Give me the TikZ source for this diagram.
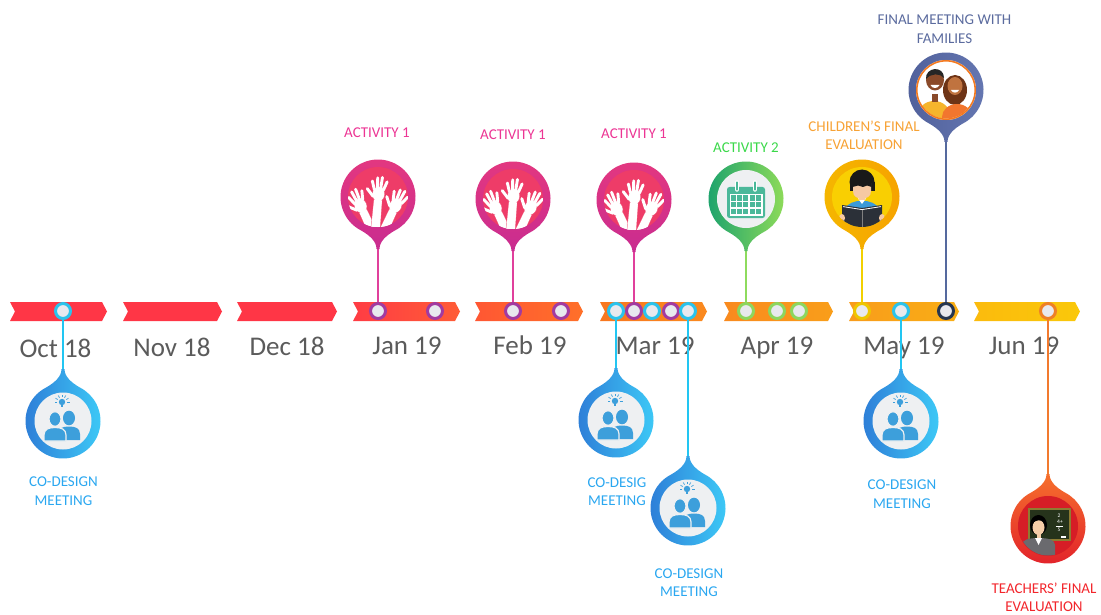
\documentclass[tikz,border=0pt]{standalone}
\usepackage{fontspec}
\setmainfont{Carlito}

% timeline bars
\definecolor{barRed}{HTML}{FF3646}
\definecolor{janL}{HTML}{FF3C44}\definecolor{janR}{HTML}{FF5C36}
\definecolor{febL}{HTML}{FF5733}\definecolor{febR}{HTML}{FF7029}
\definecolor{marL}{HTML}{F8771F}\definecolor{marR}{HTML}{FA8A1F}
\definecolor{aprL}{HTML}{F98A1E}\definecolor{aprR}{HTML}{F99E1A}
\definecolor{mayL}{HTML}{F99C1B}\definecolor{mayR}{HTML}{F9AE15}
\definecolor{junL}{HTML}{FBBB0D}\definecolor{junR}{HTML}{FAC80A}
% dots and stems
\definecolor{dotFill}{HTML}{E8E9EE}
\definecolor{ringPurple}{HTML}{A23AA0}
\definecolor{ringCyan}{HTML}{2BC3EC}
\definecolor{ringGreen}{HTML}{8DD65E}
\definecolor{ringYellow}{HTML}{EEC600}
\definecolor{ringNavy}{HTML}{263650}
\definecolor{ringOrange}{HTML}{EE8026}
\definecolor{stemPink}{HTML}{E0409C}
\definecolor{stemCyan}{HTML}{22C6F2}
\definecolor{stemGreen}{HTML}{8EDB5E}
\definecolor{stemYellow}{HTML}{F2D000}
\definecolor{stemSlate}{HTML}{55699E}
\definecolor{stemOrange}{HTML}{F27A2E}
% pins
\definecolor{pinkOuterT}{HTML}{E4387F}\definecolor{pinkOuterB}{HTML}{C92C90}
\definecolor{pinkInner}{HTML}{EE3C68}
\definecolor{pinkEdge}{HTML}{F0607F}
\definecolor{greenOuterL}{HTML}{17A06E}\definecolor{greenOuterR}{HTML}{94DE58}
\definecolor{iconWhite}{HTML}{EEF0F2}
\definecolor{yellowOuterL}{HTML}{F5B700}\definecolor{yellowOuterR}{HTML}{F6A200}
\definecolor{yellowInner}{HTML}{F9CF02}
\definecolor{slateOuterL}{HTML}{4F5F9A}\definecolor{slateOuterR}{HTML}{6678B2}
\definecolor{blueOuterL}{HTML}{2D7AD6}\definecolor{blueOuterR}{HTML}{3ECDF8}
\definecolor{redOuterT}{HTML}{F6702C}\definecolor{redOuterB}{HTML}{E11F2B}
\definecolor{redInner}{HTML}{D61D26}
% icons
\definecolor{calTeal}{HTML}{4BB89A}
\definecolor{peopleBlue}{HTML}{3D9FDB}
\definecolor{shirtBlue}{HTML}{3B9AD8}
\definecolor{skinLight}{HTML}{F6C9A3}
\definecolor{bookDark}{HTML}{2B3038}
\definecolor{manShirt}{HTML}{F6B52C}
\definecolor{manSkin}{HTML}{8A4A2A}
\definecolor{womanHair}{HTML}{6E3416}
\definecolor{womanShirt}{HTML}{F2762E}
\definecolor{womanSkin}{HTML}{C0733F}
\definecolor{familyRing}{HTML}{F47A20}
\definecolor{boardFrame}{HTML}{8E7C32}
\definecolor{boardGreen}{HTML}{26331B}
\definecolor{teacherSkin}{HTML}{F5CDA8}
\definecolor{suitGray}{HTML}{6A6A6E}
% labels
\definecolor{monthGray}{HTML}{5B5B5B}
\definecolor{pinkLabel}{HTML}{EC3594}
\definecolor{greenLabel}{HTML}{3BD84A}
\definecolor{orangeLabel}{HTML}{F7A235}
\definecolor{slateLabel}{HTML}{5B6B9E}
\definecolor{blueLabel}{HTML}{2AA7F0}
\definecolor{redLabel}{HTML}{F2262C}

% chevron bar from x=#1 to x=#2
\newcommand\chev[4]{\shade[left color=#3,right color=#4]
  (#1,302) -- ({#2-5},302) -- (#2,311.5) -- ({#2-5},321) -- (#1,321) -- ({#1+5},311.5) -- cycle;}

% teardrop pin: centre (#1,#2), tail down (#3=1) or up (#3=-1), fill options #4
\newcommand\pinbody[4]{%
  \path[#4] ({#1-1.5},{#2+(#3)*52}) .. controls ({#1-1.5},{#2+(#3)*44}) and ({#1-9},{#2+(#3)*38}) .. ({#1-17},{#2+(#3)*33.42})
    arc[start angle={(#3)*116.97}, end angle={(#3)*423.03}, radius=37.5]
    .. controls ({#1+9},{#2+(#3)*38}) and ({#1+1.5},{#2+(#3)*44}) .. ({#1+1.5},{#2+(#3)*52}) -- cycle;}

% one raised hand, wrist at (#1,#2), tilted by #3
\newcommand\raisedhand[3]{%
  \begin{scope}[shift={(#1,#2)},rotate=#3,scale=1.3]
    \path[fill=white,draw=pinkEdge,line width=0.5pt] (-3.1,0) -- (-3.8,40) -- (3.8,40) -- (3.1,0) -- cycle;
    \path[fill=white,draw=pinkEdge,line width=0.5pt] (0,-4.5) ellipse[x radius=4.7, y radius=5.6];
    \draw[white,line width=2.9pt,line cap=round]
      (-3.4,-7.5) -- (-5.6,-14.2)
      (-1.2,-9) -- (-1.7,-17)
      (1.3,-9) -- (1.9,-17.6)
      (3.5,-8) -- (5.8,-14.5)
      (-4,-2.5) -- (-9,-8);
    \fill[white] (-3,0) -- (-3.5,40) -- (3.5,40) -- (3,0) -- cycle;
    \fill[white] (0,-4.5) ellipse[x radius=4.4, y radius=5.3];
  \end{scope}}

\newcommand\handsicon[2]{%
  \begin{scope}[shift={(#1,#2)}]
    \clip (0,0) circle[radius=30];
    \raisedhand{-15}{14}{25}
    \raisedhand{15}{14}{-25}
    \raisedhand{0}{3}{-5}
  \end{scope}}

\newcommand\calendaricon[2]{%
  \begin{scope}[shift={(#1,#2)}]
    \fill[calTeal, rounded corners=2.5pt] (-19,-13) rectangle (19,18);
    \fill[white] (-16.5,-6) rectangle (16.5,15.5);
    \foreach \i in {0,...,4} \foreach \j in {0,...,2}
      \fill[calTeal] ({-15+\i*6.2},{-4.5+\j*6.6}) rectangle ++(5,5.2);
    \foreach \s in {-1,1} {
      \draw[white,line width=4.5pt,line cap=round] ({\s*9},-17.5) -- ({\s*9},-10.5);
      \draw[calTeal,line width=2.4pt,line cap=round] ({\s*9},-17.5) -- ({\s*9},-10.5);}
  \end{scope}}

\newcommand\childicon[2]{%
  \begin{scope}[shift={(#1,#2)}]
    \clip (0,0) circle[radius=30];
    \fill[shirtBlue] (-17,12) .. controls (-13,1) and (13,1) .. (17,12) -- cycle;
    \fill[white] (-4,1.5) -- (0,7) -- (4,1.5) -- cycle;
    \fill[skinLight] (-3,-2) rectangle (3,3);
    \fill[black!90] (0,-15) circle[radius=12.5];
    \fill[black!90] (-12.5,-15) rectangle (12.5,-6);
    \fill[skinLight] (-9,-14) -- (9,-14) -- (9,-6) .. controls (9,0) and (4.5,1.5) .. (0,1.5)
      .. controls (-4.5,1.5) and (-9,0) .. (-9,-6) -- cycle;
    \fill[black!90] (-9.5,-15) -- (9.5,-15) -- (9.5,-10) -- (5,-11.5) -- (1,-10) -- (-4,-11.5) -- (-9.5,-10) -- cycle;
    \fill[bookDark] (-20,8) -- (0,11) -- (20,8) -- (20,31) -- (0,33) -- (-20,31) -- cycle;
    \draw[white,line width=0.8pt] (-19,9.6) -- (0,12.6) -- (19,9.6);
    \draw[gray,line width=0.6pt] (0,12.6) -- (0,33);
    \fill[skinLight] (-20,21) ellipse[x radius=3, y radius=4];
    \fill[skinLight] (20,21) ellipse[x radius=3, y radius=4];
  \end{scope}}

\newcommand\familyicon[2]{%
  \begin{scope}[shift={(#1,#2)}]
    \fill[white] (0,0) circle[radius=30];
    \begin{scope}
      \clip (0,0) circle[radius=28.5];
      \fill[manShirt] (-12,25) ellipse[x radius=16, y radius=14];
      \fill[manSkin] (-14,4) rectangle (-8,12);
      \fill[manSkin] (-11,-10) ellipse[x radius=9, y radius=10.5];
      \fill[black!85] (-20,-11) .. controls (-21,-23) and (-2,-25) .. (-2,-12)
        .. controls (-6,-17) and (-15,-17) .. (-20,-11) -- cycle;
      \fill[white] (-15.5,-5) .. controls (-14,-1) and (-8,-1) .. (-6.5,-5) -- cycle;
      \fill[womanHair] (9,0) ellipse[x radius=12, y radius=15];
      \fill[womanShirt] (11,27) ellipse[x radius=15, y radius=13];
      \fill[womanSkin] (9,-4) ellipse[x radius=7.5, y radius=9];
      \fill[white] (5,0) .. controls (6.5,3.5) and (11.5,3.5) .. (13,0) -- cycle;
    \end{scope}
    \draw[familyRing,line width=1.6pt] (0,0) circle[radius=29.2];
  \end{scope}}

% one co-design figure, head at (#1,#2)
\newcommand\codesignperson[3]{%
  \path[fill=peopleBlue,#3] (#1,#2) ellipse[x radius=6, y radius=7.3];
  \path[fill=peopleBlue,#3] ({#1-11},{#2+22}) -- ({#1-11},{#2+16}) .. controls ({#1-11},{#2+10}) and ({#1-6},{#2+8.5}) .. (#1,{#2+8.5})
    .. controls ({#1+6},{#2+8.5}) and ({#1+11},{#2+10}) .. ({#1+11},{#2+16}) -- ({#1+11},{#2+22}) -- cycle;}

\newcommand\codesignicon[2]{%
  \begin{scope}[shift={(#1,#2)}]
    \fill[iconWhite] (0,0) circle[radius=28.5];
    \fill[peopleBlue] (-1,-19) circle[radius=3.2];
    \fill[peopleBlue] (-2.4,-16.5) rectangle (0.4,-13.8);
    \foreach \a in {-180,-150,-120,-90,-60,-30,0}
      \draw[peopleBlue,line width=0.7pt] (-1,-19) ++(\a:5) -- ++(\a:2.5);
    \codesignperson{6}{-3}{}
    \codesignperson{-8}{-2}{draw=iconWhite,line width=1.2pt}
  \end{scope}}

\newcommand\teachericon[2]{%
  \begin{scope}[shift={(#1,#2)}]
    \clip (0,0) circle[radius=29.5];
    \fill[boardFrame] (-20,-18) rectangle (23,15);
    \fill[boardGreen] (-18,-16) rectangle (21,13);
    \node[chalk] (chalkA) at (11,-10) {2};
    \node[chalk] (chalkB) at (12,-4) {4+};
    \node[chalk] (chalkC) at (11,3.5) {5};
    \draw[white,line width=0.5pt] (8,0) -- (15,0);
    \fill[white] (13,10) rectangle (18,11.5);
    \fill[black] (-9.5,-1) ellipse[x radius=8.5, y radius=10];
    \fill[teacherSkin] (-11.5,6) rectangle (-7.5,13);
    \fill[teacherSkin] (-9.5,1.5) ellipse[x radius=6, y radius=7.5];
    \fill[black] (-16,-3) .. controls (-15,-11) and (-5,-12) .. (-3,-4) .. controls (-7,-7) and (-12,-6) .. (-16,-3) -- cycle;
    \fill[suitGray] (-26,32) -- (-26,19) .. controls (-26,14) and (-20,12) .. (-9.5,12)
      .. controls (1,12) and (7,14) .. (7,19) -- (7,32) -- cycle;
    \fill[white] (-13,12) -- (-9.5,19) -- (-6,12) -- cycle;
  \end{scope}}

\begin{document}
\begin{tikzpicture}[x=1pt,y=-1pt,
  month/.style={font=\fontsize{27}{27}\selectfont, text=monthGray, anchor=base, inner sep=0pt},
  tag/.style={font=\fontsize{15}{18.5}\selectfont, align=center, anchor=center, inner sep=0pt},
  tldot/.style={circle, draw=#1, line width=3pt, fill=dotFill, minimum size=15pt, inner sep=0pt},
  stem/.style={draw=#1, line width=2pt},
  chalk/.style={font=\fontsize{5.5}{6}\selectfont, text=white, inner sep=0pt}]
\useasboundingbox (0,0) rectangle (1101,615);

% month bars
\chev{10}{107}{barRed}{barRed}
\chev{123}{222}{barRed}{barRed}
\chev{237}{337}{barRed}{barRed}
\chev{353}{460}{janL}{janR}
\chev{475}{583}{febL}{febR}
\chev{600}{707}{marL}{marR}
\chev{724}{833}{aprL}{aprR}
\chev{849}{959}{mayL}{mayR}
\chev{974}{1080}{junL}{junR}

% month names
\node[month] (mOct) at (55.5,357) {Oct 18};
\node[month] (mNov) at (172,356) {Nov 18};
\node[month] (mDec) at (287,355) {Dec 18};
\node[month] (mJan) at (407,354.5) {Jan 19};
\node[month] (mFeb) at (530,354.5) {Feb 19};
\node[month] (mMar) at (655,354.5) {Mar 19};
\node[month] (mApr) at (777,354.5) {Apr 19};
\node[month] (mMay) at (904,354.5) {May 19};
\node[month] (mJun) at (1024,354.5) {Jun 19};

% pin tips
\coordinate (tJanA) at (378,249);
\coordinate (tFebA) at (513,251);
\coordinate (tMarA) at (634,252);
\coordinate (tAprA) at (746,251);
\coordinate (tChild) at (862,249);
\coordinate (tFamily) at (946,142);
\coordinate (tOct) at (63,369);
\coordinate (tMarC1) at (616,368);
\coordinate (tMarC2) at (688,456);
\coordinate (tMay) at (901,369);
\coordinate (tTeach) at (1048,474);

% dots on the timeline
\node[tldot=ringCyan] (dOct) at (63,311) {};
\node[tldot=ringPurple] (dJanA) at (378,311) {};
\node[tldot=ringPurple] (dJanB) at (435,311) {};
\node[tldot=ringPurple] (dFebA) at (513,311) {};
\node[tldot=ringPurple] (dFebB) at (561,311) {};
\node[tldot=ringCyan] (dMarA) at (616,311) {};
\node[tldot=ringPurple] (dMarB) at (634,311) {};
\node[tldot=ringCyan] (dMarC) at (652,311) {};
\node[tldot=ringPurple] (dMarD) at (671,311) {};
\node[tldot=ringCyan] (dMarE) at (688,311) {};
\node[tldot=ringGreen] (dAprA) at (746,311) {};
\node[tldot=ringGreen] (dAprB) at (777,311) {};
\node[tldot=ringGreen] (dAprC) at (799,311) {};
\node[tldot=ringYellow] (dMayA) at (862,311) {};
\node[tldot=ringCyan] (dMayB) at (901,311) {};
\node[tldot=ringNavy] (dMayC) at (946,311) {};
\node[tldot=ringOrange] (dJun) at (1048,311) {};

% stems from pins to dots
\draw[stem=stemPink] (tJanA) -- (dJanA);
\draw[stem=stemPink] (tFebA) -- (dFebA);
\draw[stem=stemPink] (tMarA) -- (dMarB);
\draw[stem=stemGreen] (tAprA) -- (dAprA);
\draw[stem=stemYellow] (tChild) -- (dMayA);
\draw[stem=stemSlate] (tFamily) -- (dMayC);
\draw[stem=stemCyan] (tOct) -- (dOct);
\draw[stem=stemCyan] (tMarC1) -- (dMarA);
\draw[stem=stemCyan] (tMarC2) -- (dMarE);
\draw[stem=stemCyan] (tMay) -- (dMayB);
\draw[stem=stemOrange] (tTeach) -- (dJun);

% activity 1 pins
\foreach \px/\py in {378/197, 513/199, 634/200} {
  \pinbody{\px}{\py}{1}{top color=pinkOuterT, bottom color=pinkOuterB}
  \fill[pinkInner] (\px,\py) circle[radius=30];
  \handsicon{\px}{\py}
}
% activity 2
\pinbody{746}{199}{1}{left color=greenOuterL, right color=greenOuterR}
\fill[iconWhite] (746,199) circle[radius=29];
\calendaricon{746}{200}
% children's evaluation
\pinbody{862}{197}{1}{left color=yellowOuterL, right color=yellowOuterR}
\fill[yellowInner] (862,197) circle[radius=30];
\childicon{862}{197}
% meeting with families
\pinbody{946}{90}{1}{left color=slateOuterL, right color=slateOuterR}
\familyicon{946}{90}
% co-design meetings
\foreach \px/\py in {63/421, 616/420, 688/508, 901/421} {
  \pinbody{\px}{\py}{-1}{left color=blueOuterL, right color=blueOuterR}
  \codesignicon{\px}{\py}
}
% teachers' evaluation
\pinbody{1048}{526}{-1}{top color=redOuterT, bottom color=redOuterB}
\fill[redInner] (1048,526) circle[radius=30];
\teachericon{1048}{526}

% captions
\node[tag,text=pinkLabel] (lJan) at (377,132.5) {ACTIVITY 1};
\node[tag,text=pinkLabel] (lFeb) at (513,135) {ACTIVITY 1};
\node[tag,text=pinkLabel] (lMar) at (634,134) {ACTIVITY 1};
\node[tag,text=greenLabel] (lApr) at (746,147.5) {ACTIVITY 2};
\node[tag,text=orangeLabel] (lChild) at (864,135.5) {CHILDREN’S FINAL\\EVALUATION};
\node[tag,text=slateLabel] (lFamily) at (944.5,29) {FINAL MEETING WITH\\FAMILIES};
\node[tag,text=blueLabel] (lOct) at (63.5,491) {CO-DESIGN\\MEETING};
\node[tag,text=blueLabel] (lMarC1) at (617,491.5) {CO-DESIG\\MEETING};
\node[tag,text=blueLabel] (lMarC2) at (689,582.5) {CO-DESIGN\\MEETING};
\node[tag,text=blueLabel] (lMay) at (902,494) {CO-DESIGN\\MEETING};
\node[tag,text=redLabel] (lTeach) at (1044,597.5) {TEACHERS’ FINAL\\EVALUATION};
\end{tikzpicture}
\end{document}
